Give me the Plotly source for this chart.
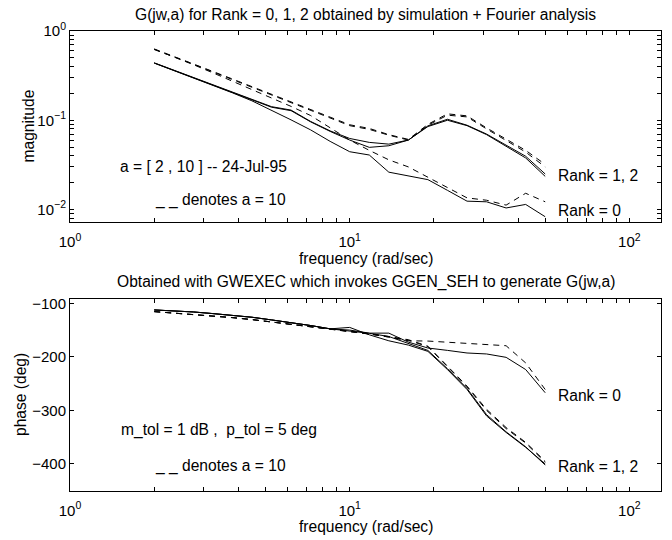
import plotly.graph_objects as go

# ---------------- data ----------------
freq = [2.0, 2.349, 2.759, 3.241, 3.807, 4.472, 5.253, 6.170, 7.248, 8.513,
        10.0, 11.75, 13.80, 16.21, 19.04, 22.36, 26.27, 30.86, 36.24, 42.57, 50.0]

# magnitude, a = 2 (solid)
mag_r0_a2 = [0.437, 0.361, 0.298, 0.247, 0.203, 0.165, 0.130, 0.101, 0.078, 0.058,
             0.0444, 0.0408, 0.0262, 0.0240, 0.0216, 0.0164, 0.0124, 0.0122, 0.0104, 0.0114, 0.0083]
mag_r1_a2 = [0.440, 0.364, 0.302, 0.252, 0.209, 0.172, 0.142, 0.130, 0.097, 0.076,
             0.0625, 0.0565, 0.0540, 0.0600, 0.0865, 0.1026, 0.0880, 0.0700, 0.0527, 0.0395, 0.0250]
mag_r2_a2 = [0.438, 0.362, 0.300, 0.250, 0.207, 0.170, 0.140, 0.128, 0.096, 0.075,
             0.0600, 0.0497, 0.0518, 0.0600, 0.0850, 0.1000, 0.0870, 0.0690, 0.0515, 0.0378, 0.0235]
# magnitude, a = 10 (dashed)
mag_r0_a10 = [0.625, 0.515, 0.420, 0.340, 0.275, 0.222, 0.178, 0.143, 0.113, 0.082,
              0.0600, 0.0460, 0.0360, 0.0300, 0.0230, 0.0178, 0.0135, 0.0127, 0.0112, 0.0152, 0.0122]
mag_r1_a10 = [0.630, 0.521, 0.429, 0.352, 0.290, 0.238, 0.196, 0.161, 0.132, 0.109,
              0.0890, 0.0810, 0.0690, 0.0610, 0.0900, 0.1180, 0.1120, 0.0820, 0.0620, 0.0460, 0.0320]
mag_r2_a10 = [0.620, 0.515, 0.425, 0.348, 0.286, 0.235, 0.194, 0.159, 0.130, 0.107,
              0.0870, 0.0790, 0.0680, 0.0600, 0.0880, 0.1140, 0.1090, 0.0800, 0.0600, 0.0440, 0.0300]

# phase (deg), a = 2 (solid)
ph_r0_a2 = [-112.4, -113.7, -116.1, -119.2, -122.3, -126.0, -131.0, -136.0, -141.5, -147.7,
            -150.0, -155.7, -155.7, -172.5, -183.5, -187.9, -192.8, -194.6, -200.9, -223.7, -267.0]
ph_r1_a2 = [-112.4, -113.7, -116.1, -119.2, -122.3, -126.0, -131.0, -136.0, -141.5, -147.7,
            -145.0, -158.8, -170.0, -178.0, -189.8, -223.7, -260.9, -310.4, -341.2, -369.0, -400.0]
ph_r2_a2 = [-112.4, -113.7, -116.1, -119.2, -122.3, -126.0, -131.0, -136.0, -141.5, -147.7,
            -152.0, -156.0, -162.0, -175.0, -188.0, -222.0, -259.0, -308.0, -340.0, -368.0, -402.0]
# phase (deg), a = 10 (dashed)
ph_r0_a10 = [-115.5, -118.0, -120.5, -123.6, -126.7, -130.4, -134.7, -139.0, -143.4, -148.3,
             -153.2, -157.0, -163.0, -170.0, -170.5, -172.4, -174.2, -176.1, -179.2, -211.3, -261.0]
ph_r1_a10 = [-115.5, -118.0, -120.5, -123.6, -126.7, -130.4, -134.7, -139.0, -143.4, -148.3,
             -153.2, -157.0, -162.0, -168.0, -180.0, -217.6, -254.7, -298.0, -332.0, -359.7, -395.0]
ph_r2_a10 = [-115.5, -118.0, -120.5, -123.6, -126.7, -130.4, -134.7, -139.0, -143.4, -148.3,
             -153.2, -157.5, -163.0, -169.0, -181.0, -218.5, -256.0, -300.0, -334.0, -361.0, -397.0]

# tick labels
x_major = [1, 10, 100]
x_major_text = ["10<sup>0</sup>", "10<sup>1</sup>", "10<sup>2</sup>"]
mag_major = [0.01, 0.1, 1]
mag_major_text = ["10<sup>\u22122</sup>", "10<sup>\u22121</sup>", "10<sup>0</sup>"]
ph_ticks = [-400, -300, -200, -100]

# ---------------- figure ----------------
FONT = "Liberation Sans, Arial, Helvetica, sans-serif"
W, H = 672, 540
ML, MR, MT, MB = 70, 11, 31, 49

fig = go.Figure()

def add(x, y, dashed, yaxis):
    fig.add_trace(go.Scatter(
        x=x, y=y, mode="lines", xaxis="x" if yaxis == "y" else "x2", yaxis=yaxis,
        line=dict(color="black", width=1, dash="6px,5px" if dashed else "solid"),
        showlegend=False, hoverinfo="skip"))

for s in (mag_r0_a2, mag_r1_a2, mag_r2_a2):
    add(freq, s, False, "y")
for s in (mag_r0_a10, mag_r1_a10, mag_r2_a10):
    add(freq, s, True, "y")
for s in (ph_r0_a2, ph_r1_a2, ph_r2_a2):
    add(freq, s, False, "y2")
for s in (ph_r0_a10, ph_r1_a10, ph_r2_a10):
    add(freq, s, True, "y2")

# intermediate (unlabeled) tick positions on the log axes
x_minor = [v * m for v in x_major for m in range(2, 10)]
mag_minor = [0.008, 0.009] + [v * m for v in mag_major[:-1] for m in range(2, 10)]

plot_h = H - MT - MB
def ydom(top_px, bot_px):
    return [(H - MB - bot_px) / plot_h, (H - MB - top_px) / plot_h]

axis_common = dict(showline=True, linecolor="black", linewidth=1, mirror="allticks",
                   ticks="inside", ticklen=4, tickcolor="black", tickwidth=1,
                   showgrid=False, zeroline=False,
                   tickfont=dict(family=FONT, size=15, color="black"))
minor_common = dict(ticks="inside", ticklen=4, tickcolor="black", tickwidth=1, showgrid=False)

fig.update_layout(
    width=W, height=H, margin=dict(l=ML, r=MR, t=MT, b=MB),
    paper_bgcolor="white", plot_bgcolor="white",
    font=dict(family=FONT, size=15, color="black"),
    xaxis=dict(type="log", range=[0, 2.113], domain=[0, 1], anchor="y",
               tickmode="array", tickvals=x_major, ticktext=x_major_text,
               minor=dict(tickmode="array", tickvals=x_minor, **minor_common),
               ticklabelstandoff=6, **axis_common),
    yaxis=dict(type="log", range=[-2.14, 0], domain=ydom(31, 222), anchor="x",
               tickmode="array", tickvals=mag_major, ticktext=mag_major_text,
               minor=dict(tickmode="array", tickvals=mag_minor, **minor_common),
               **axis_common),
    xaxis2=dict(type="log", range=[0, 2.113], domain=[0, 1], anchor="y2",
                tickmode="array", tickvals=x_major, ticktext=x_major_text,
                minor=dict(tickmode="array", tickvals=x_minor, **minor_common),
                ticklabelstandoff=6, **axis_common),
    yaxis2=dict(range=[-450, -92.5], domain=ydom(299.3, 490.7), anchor="x2",
                tickmode="array", tickvals=ph_ticks, **axis_common),
)

def px2paper(px, py):
    return (px - ML) / (W - ML - MR), (H - MB - py) / plot_h

def note(text, px, py, xanchor="left", angle=0, size=15.6):
    x, y = px2paper(px, py)
    fig.add_annotation(text=text, x=x, y=y, xref="paper", yref="paper",
                       xanchor=xanchor, yanchor="middle", showarrow=False,
                       textangle=angle, font=dict(family=FONT, size=size, color="black"))

cx = (ML + W - MR) / 2
note("G(jw,a) for Rank = 0, 1, 2 obtained by simulation + Fourier analysis", cx, 15, "center")
note("frequency (rad/sec)", cx, 258, "center")
note("Obtained with GWEXEC which invokes GGEN_SEH to generate G(jw,a)", cx, 282, "center")
note("frequency (rad/sec)", cx, 526, "center")
note("magnitude", 28, 126.5, "center", -90)
note("phase (deg)", 20, 395, "center", -90)

note("a = [ 2 , 10 ] -- 24-Jul-95", 118, 167)
note("_ _ denotes a = 10", 153, 200)
note("Rank = 1, 2", 556, 175)
note("Rank = 0", 556, 210)
note("m_tol = 1 dB ,  p_tol = 5 deg", 119, 430)
note("_ _ denotes a = 10", 153, 466)
note("Rank = 0", 556, 395)
note("Rank = 1, 2", 556, 466)

fig.write_html("out.html",
               config={"displayModeBar": False, "staticPlot": True},
               post_script="document.body.style.margin='0';document.body.style.overflow='hidden';")
